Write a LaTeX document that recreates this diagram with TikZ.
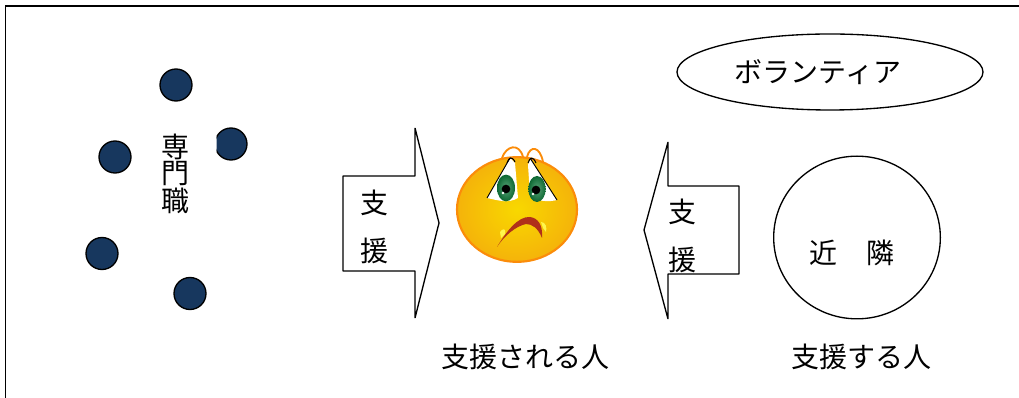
\documentclass[tikz,border=0pt]{standalone}
\usepackage{fontspec}
\setmainfont{Noto Sans CJK JP}
\usepackage{tikz}
\usetikzlibrary{shapes.geometric, positioning}
\definecolor{navy}{HTML}{17375E}
\definecolor{faceorange}{HTML}{FB8C0A}
\definecolor{faceyellow}{HTML}{F8D800}
\definecolor{facedark}{HTML}{F5B30A}
\definecolor{eyegreen}{HTML}{0F7A3C}
\definecolor{mouthred}{HTML}{B0301A}
\tikzstyle{staff} = [circle,
minimum size=24pt,
inner sep=0pt,
draw=black,
line width=1pt,
fill=navy]
\tikzstyle{caption} = [inner sep=0pt,
font=\fontsize{21pt}{21pt}\selectfont]
\tikzstyle{outline} = [draw=black, line width=1pt, line join=bevel]
\tikzstyle{eye} = [ellipse, inner sep=0pt, inner color=eyegreen!70!white, outer color=eyegreen!85!black]
\tikzstyle{pupil} = [circle, minimum size=6.5pt, inner sep=0pt, fill=black]
\tikzstyle{glint} = [circle, minimum size=2pt, inner sep=0pt, fill=white]
\begin{document}
\begin{tikzpicture}[x=0.75pt, y=-0.75pt]
\useasboundingbox (0,0) rectangle (1019,398);
\draw [line width=1.2pt] (5.5,398) -- (5.5,6) -- (1019,6);
\node (staff1) [staff] at (176,85) {};
\begin{scope}
\clip (216.5,120) rectangle (260,170);
\node (staff2) [staff] at (231,144) {};
\end{scope}
\node (staff3) [staff] at (115,157) {};
\node (staff4) [staff] at (102,253.5) {};
\node (staff5) [staff] at (190,293.5) {};
\node (sen) [caption] at (175,147) {専};
\node (mon) [caption] at (175,174) {門};
\node (shoku) [caption] at (175,201) {職};
% arrows
\draw [outline] (343,176) -- (415,176) -- (415,128) -- (439,223) -- (415,318) -- (415,271) -- (343,271) -- cycle;
\draw [outline] (739,186) -- (668,186) -- (668,142) -- (644,230) -- (668,319) -- (668,274) -- (739,274) -- cycle;
\node (shienr1) [caption] at (374,203) {支};
\node (shienr2) [caption] at (374,251) {援};
\node (shienl1) [caption] at (682,212) {支};
\node (shienl2) [caption] at (682,260) {援};
% face
\node (face) [ellipse, minimum width=90pt, minimum height=78.5pt, inner sep=0pt, draw=faceorange, line width=1.6pt, inner color=faceyellow, outer color=facedark] at (517,209.5) {};
\draw [faceorange, line width=1.4pt] (502,158) .. controls (506,146) and (519,142) .. (523,157);
\draw [faceorange, line width=1.4pt] (527,157) .. controls (530,145) and (540,146) .. (543,162);
\fill [white] (510,158) -- (487,198) .. controls (497,200) and (508,204) .. (518,198) -- (515,163) -- cycle;
\fill [white] (530,158) -- (557,200) .. controls (549,202) and (537,202) .. (530,195) -- (528,165) -- cycle;
\draw [line width=0.7pt] (510,158) -- (487,198);
\draw [line width=0.7pt] (530,158) -- (557,200);
\draw [line width=0.8pt] (507,163) .. controls (509,157) and (512,156) .. (515,162);
\draw [line width=0.8pt] (528,163) .. controls (530,157) and (533,156) .. (536,163);
\node (eyel) [eye, minimum width=13.5pt, minimum height=20pt] at (506,188) {};
\node (eyer) [eye, minimum width=13pt, minimum height=19.5pt] at (537,189) {};
\node (pupill) [pupil] at (506,189) {};
\node (pupilr) [pupil] at (536,190) {};
\node (glintl) [glint] at (503,193) {};
\node (glintr) [glint] at (533,194) {};
\fill [yellow!70!white] (500,232) .. controls (503,228) and (506,228) .. (505,234) -- (501,238) -- cycle;
\fill [yellow!70!white] (541,222) .. controls (546,222) and (547,228) .. (546,232) -- (543,228) -- cycle;
\fill [mouthred] (497,247) .. controls (506,232) and (518,216) .. (530,217) .. controls (538,218) and (543,225) .. (542,238) .. controls (538,228) and (532,224) .. (526,224) .. controls (516,226) and (504,236) .. (497,247) -- cycle;
% labels
\node (vol) [ellipse, minimum width=229.5pt, minimum height=57pt, inner sep=0pt, outline] at (830,72) {};
\node (voltext) [caption] at (818,72) {ボランティア};
\node (near) [ellipse, minimum width=125pt, minimum height=122pt, inner sep=0pt, outline] at (857,237.5) {};
\node (kin) [caption] at (823,253) {近};
\node (rin) [caption] at (880,253) {隣};
\node (helped) [caption] at (525.5,357) {支援される人};
\node (helper) [caption] at (861,357) {支援する人};
\end{tikzpicture}
\end{document}
